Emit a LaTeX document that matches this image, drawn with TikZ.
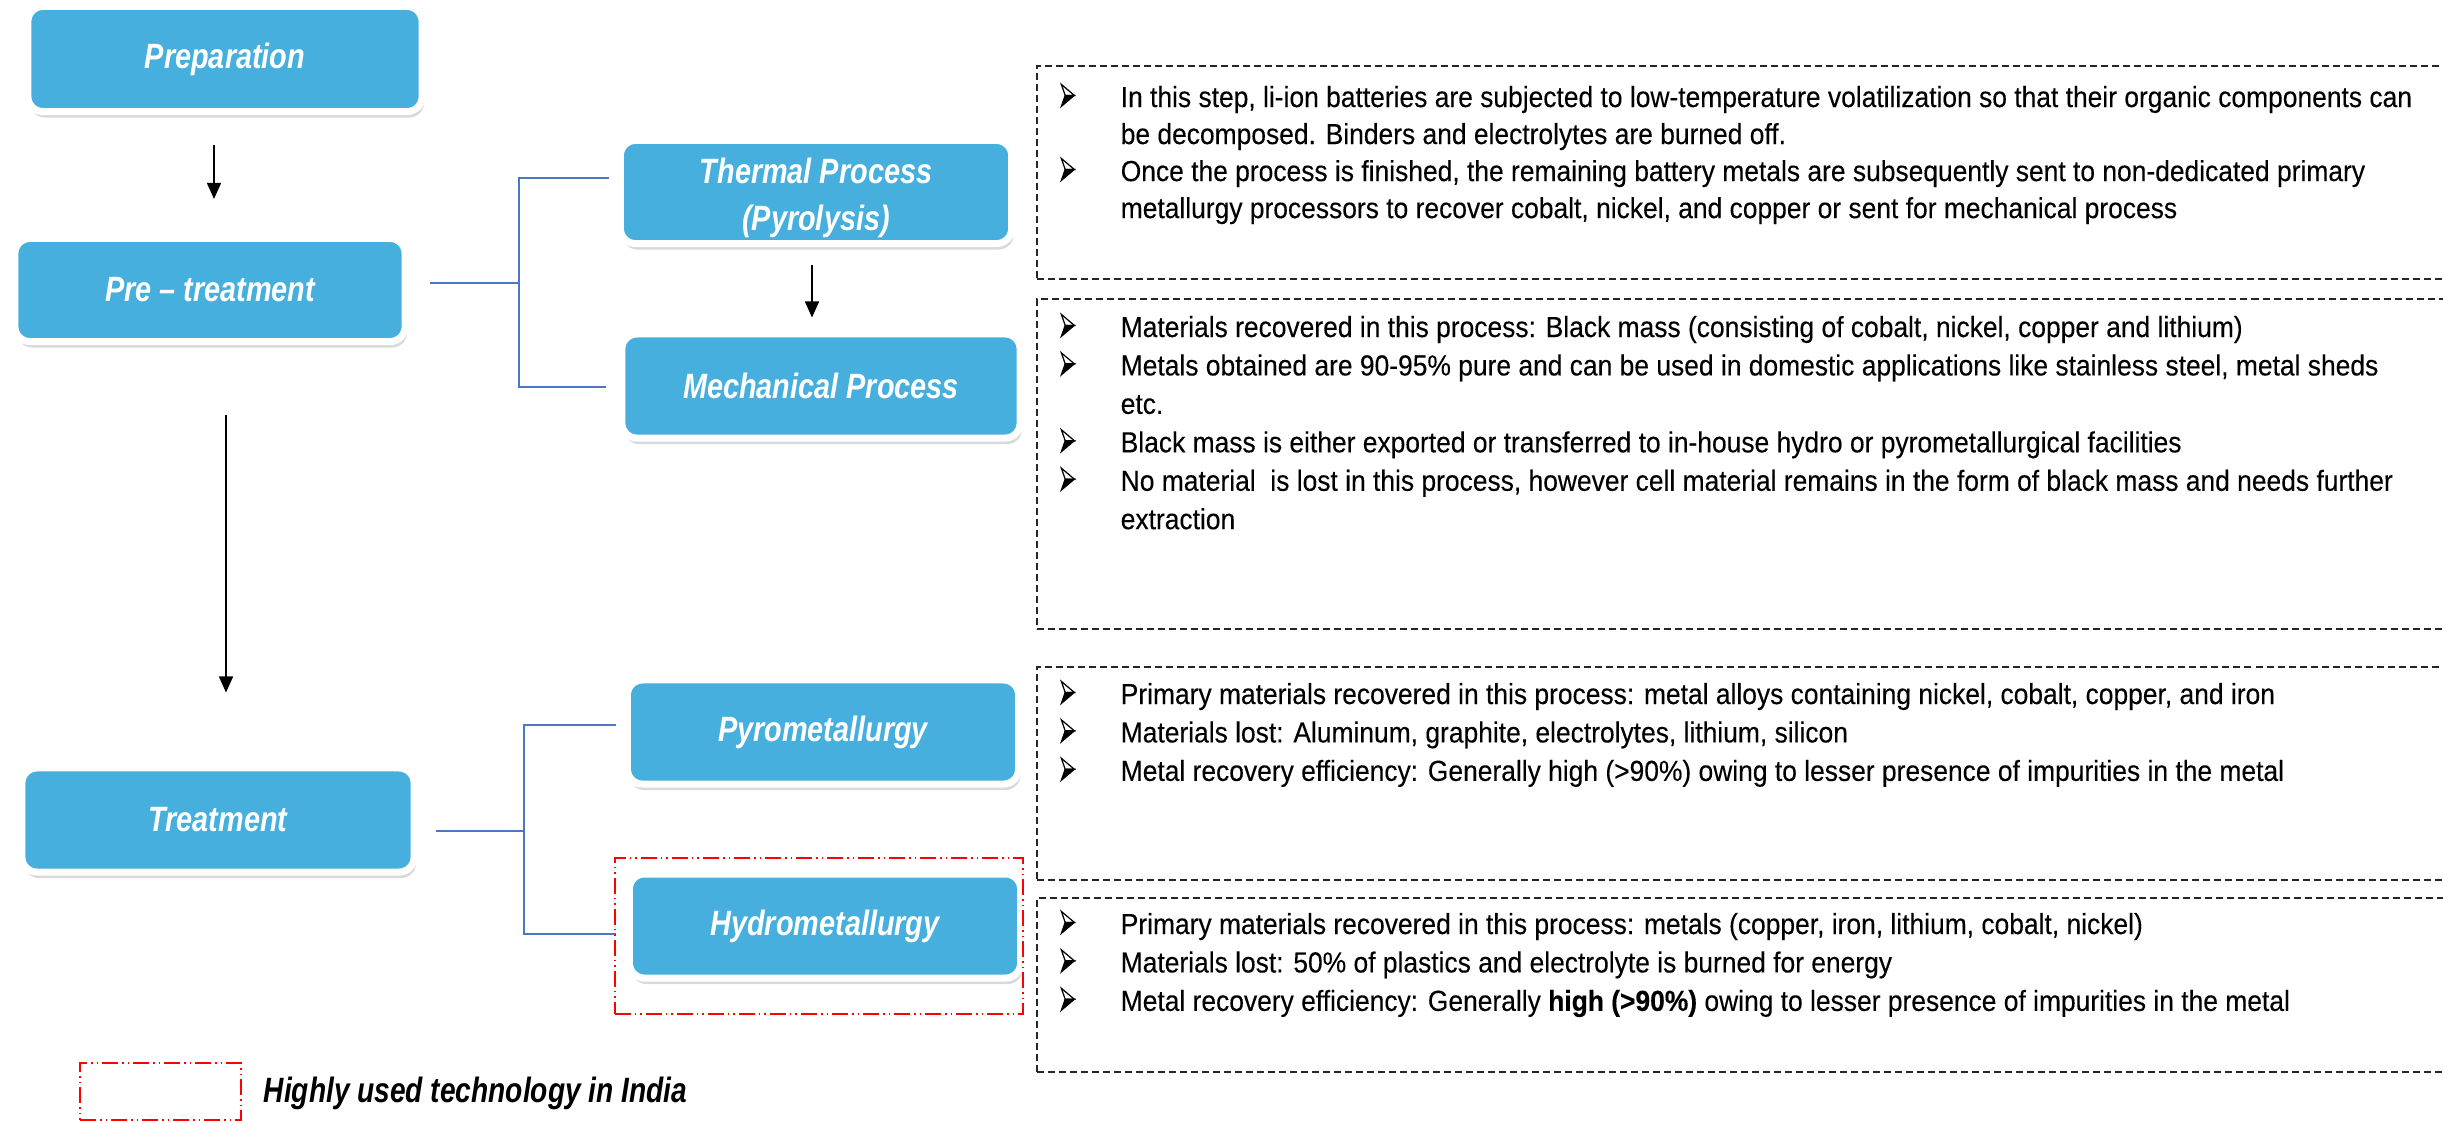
\documentclass[tikz,border=0pt]{standalone}
\usepackage{fontspec}
\setmainfont{Liberation Sans}[FakeStretch=0.91,FakeBold=0.2]
\newfontfamily\headfont{Liberation Sans}[FakeStretch=0.82]
\newfontfamily\legfont{Liberation Sans}[FakeStretch=0.80]
\usetikzlibrary{arrows.meta,calc,shadows}
\definecolor{boxblue}{HTML}{46AFDD}
\definecolor{linkblue}{HTML}{4A78C2}
\newsavebox\bulbox
\newcommand\bul{\makebox[0.6cm][l]{\usebox\bulbox}}
\newcommand\cont{\hspace*{0.6cm}}
\newcommand\notelines[2]{\parbox[t]{14cm}{\raggedright\fontsize{8.25pt}{#1}\selectfont #2}}
\tikzset{
  stage/.style={rounded corners=0.15cm, fill=boxblue, draw=white, line width=0.07cm,
    inner sep=0pt, align=center, text=white,
    font=\headfont\bfseries\itshape\fontsize{10pt}{13.4pt}\selectfont,
    drop shadow={shadow xshift=0.02cm, shadow yshift=-0.06cm, opacity=0.3}},
  link/.style={draw=linkblue, line width=0.02cm},
  arr/.style={draw=black, line width=0.015cm, -{Triangle[length=0.16cm,width=0.14cm]}},
  notebox/.style={draw=black!85, line width=0.015cm, dash pattern=on 0.07cm off 0.04cm,
    inner sep=0pt, anchor=north west},
  notetext/.style={anchor=base west, inner sep=0pt},
  hilite/.style={draw=red, line width=0.02cm, inner sep=0pt,
    dash pattern=on 0.16cm off 0.04cm on 0.015cm off 0.04cm on 0.015cm off 0.04cm},
}
\begin{document}
% three-dimensional arrowhead bullet: outlined upper half, filled lower half
\sbox\bulbox{\begin{pgfpicture}
  \pgfsetlinewidth{0.35pt}
  \pgfsetmiterjoin
  \pgfpathmoveto{\pgfpoint{0pt}{0pt}}
  \pgfpathlineto{\pgfpoint{3.7pt}{3.13pt}}
  \pgfpathlineto{\pgfpoint{1.1pt}{3.13pt}}
  \pgfpathclose
  \pgfusepath{fill,stroke}
  \pgfpathmoveto{\pgfpoint{0pt}{6.26pt}}
  \pgfpathlineto{\pgfpoint{3.7pt}{3.13pt}}
  \pgfpathlineto{\pgfpoint{1.1pt}{3.13pt}}
  \pgfpathclose
  \pgfusepath{stroke}
\end{pgfpicture}}
\begin{tikzpicture}[x=0.01cm, y=-0.01cm]
\useasboundingbox (0,0) rectangle (2443,1120);

% process stages
\node[stage, minimum width=3.94cm, minimum height=1.05cm] (prep) at (225,59) {Preparation};
\node[stage, minimum width=3.90cm, minimum height=1.03cm] (pre) at (210,290) {Pre – treatment};
\node[stage, minimum width=3.92cm, minimum height=1.04cm] (treat) at (218,820) {Treatment};
\node[stage, minimum width=3.91cm, minimum height=1.03cm] (thermal) at (816,192) {\rule{0pt}{10.5pt}Thermal Process\\(Pyrolysis)};
\node[stage, minimum width=3.98cm, minimum height=1.04cm] (mech) at (821,386) {Mechanical Process};
\node[stage, minimum width=3.91cm, minimum height=1.04cm] (pyro) at (823,732) {Pyrometallurgy};
\node[stage, minimum width=3.91cm, minimum height=1.04cm] (hydro) at (825,926) {Hydrometallurgy};

% main flow arrows
\draw[arr] ($(prep.south)+(-11,30)$) -- ($(pre.north)+(4,-36)$);
\draw[arr] ($(pre.south)+(16,70)$) -- ($(treat.north)+(8,-72)$);
\draw[arr] ($(thermal.south)+(-4,18)$) -- ($(mech.north)+(-9,-13)$);

% branching brackets
\coordinate (j1) at (519,283);
\coordinate (j2) at (524,831);
\draw[link] ($(pre.east)+(21,-7)$) -- (j1);
\draw[link] ($(thermal.west)+(-8,-14)$) -| (j1) |- ($(mech.west)+(-12,1)$);
\draw[link] ($(treat.east)+(18,11)$) -- (j2);
\draw[link] ($(pyro.west)+(-8,-7)$) -| (j2) |- ($(hydro.west)+(-10,8)$);

% highlight around hydrometallurgy and legend
\node[hilite, minimum width=4.08cm, minimum height=1.56cm] (hydrohl) at (819,936) {};
\node[hilite, minimum width=1.61cm, minimum height=0.57cm, anchor=north west] (legbox) at (79,1062) {};
\node[anchor=west, inner sep=0pt, font=\legfont\bfseries\itshape\fontsize{10pt}{12pt}\selectfont] (legtext) at (263,1093) {Highly used technology in India};

% description boxes
\node[notebox, minimum width=14.3cm, minimum height=2.13cm] (n1) at (1036,65) {};
\node[notebox, minimum width=14.3cm, minimum height=3.30cm] (n2) at (1036,298) {};
\node[notebox, minimum width=14.3cm, minimum height=2.13cm] (n3) at (1036,666) {};
\node[notebox, minimum width=14.3cm, minimum height=1.74cm] (n4) at (1036,897) {};

\node[notetext] (t1) at (1060,107) {\notelines{10.53pt}{%
\bul In this step, li-ion batteries are subjected to low-temperature volatilization so that their organic components can\\
\cont be decomposed. Binders and electrolytes are burned off.\\
\bul Once the process is finished, the remaining battery metals are subsequently sent to non-dedicated primary\\
\cont metallurgy processors to recover cobalt, nickel, and copper or sent for mechanical process}};

\node[notetext] (t2) at (1060,337) {\notelines{10.93pt}{%
\bul Materials recovered in this process: Black mass (consisting of cobalt, nickel, copper and lithium)\\
\bul Metals obtained are 90-95\% pure and can be used in domestic applications like stainless steel, metal sheds\\
\cont etc.\\
\bul Black mass is either exported or transferred to in-house hydro or pyrometallurgical facilities\\
\bul No material\ \ is lost in this process, however cell material remains in the form of black mass and needs further\\
\cont extraction}};

\node[notetext] (t3) at (1060,704) {\notelines{10.93pt}{%
\bul Primary materials recovered in this process: metal alloys containing nickel, cobalt, copper, and iron\\
\bul Materials lost: Aluminum, graphite, electrolytes, lithium, silicon\\
\bul Metal recovery efficiency: Generally high (>90\%) owing to lesser presence of impurities in the metal}};

\node[notetext] (t4) at (1060,934) {\notelines{10.93pt}{%
\bul Primary materials recovered in this process: metals (copper, iron, lithium, cobalt, nickel)\\
\bul Materials lost: 50\% of plastics and electrolyte is burned for energy\\
\bul Metal recovery efficiency: Generally \textbf{high (>90\%)} owing to lesser presence of impurities in the metal}};
\end{tikzpicture}
\end{document}
